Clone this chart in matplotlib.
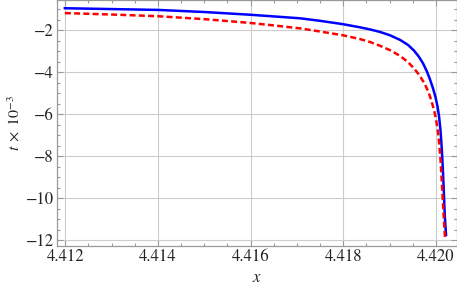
import matplotlib
matplotlib.use("Agg")
import matplotlib.pyplot as plt
from matplotlib.ticker import MultipleLocator, FormatStrFormatter

# values
x_blue = [4.41199, 4.41300, 4.41400, 4.41500, 4.41599, 4.41650, 4.41707, 4.41750,
          4.417996, 4.418363, 4.418579, 4.418795, 4.419011, 4.419227, 4.419400,
          4.419529, 4.419637, 4.419724, 4.419810, 4.419875, 4.419940, 4.419994,
          4.420037, 4.420069, 4.420102, 4.420127, 4.420149, 4.420171, 4.420192,
          4.420220]
t_blue = [-0.95, -0.99, -1.03, -1.13, -1.26, -1.34, -1.43, -1.55,
          -1.71, -1.86, -1.96, -2.08, -2.24, -2.46, -2.70,
          -2.97, -3.27, -3.58, -3.98, -4.35, -4.78, -5.2,
          -5.65, -6.1, -6.8, -7.6, -8.5, -9.6, -10.8,
          -11.76]

x_red = [4.41199, 4.41300, 4.41400, 4.41500, 4.41599, 4.41650, 4.41707, 4.41750,
         4.417996, 4.418363, 4.418579, 4.418795, 4.419011, 4.419227, 4.419400,
         4.419529, 4.419637, 4.419745, 4.419832, 4.419896, 4.419961, 4.420004,
         4.420043, 4.420073, 4.420102, 4.420123, 4.420145, 4.420171, 4.420199]
t_red = [-1.18, -1.25, -1.33, -1.47, -1.65, -1.77, -1.91, -2.06,
         -2.24, -2.42, -2.56, -2.74, -2.95, -3.22, -3.52,
         -3.82, -4.12, -4.5, -4.9, -5.3, -5.8, -6.25,
         -6.8, -7.4, -8.2, -9.0, -9.9, -10.9, -11.95]

x_ticks = [4.412, 4.414, 4.416, 4.418, 4.420]
y_ticks = [-12, -10, -8, -6, -4, -2]

plt.rcParams['font.family'] = ['STIXGeneral', 'DejaVu Serif']
plt.rcParams['mathtext.fontset'] = 'stix'

fig = plt.figure(figsize=(4.57, 2.87), dpi=100)
ax = fig.add_axes([0.1247, 0.1429, 0.8746, 0.8561])

frame_col = '#999999'
ax.plot(x_blue, t_blue, color='#0000ff', lw=1.8, zorder=3)
ax.plot(x_red, t_red, color='#ff0000', lw=1.8, dashes=(2.4, 1.3), zorder=4)

ax.set_xlim(4.41182, 4.42045)
ax.set_ylim(-12.286, -0.571)
ax.set_xticks(x_ticks)
ax.set_yticks(y_ticks)
ax.xaxis.set_major_formatter(FormatStrFormatter('%.3f'))
ax.xaxis.set_minor_locator(MultipleLocator(0.0005))
ax.yaxis.set_minor_locator(MultipleLocator(0.5))

ax.grid(True, which='major', color='#cccccc', lw=0.8, zorder=0)
for s in ax.spines.values():
    s.set_color(frame_col)
    s.set_linewidth(0.9)

ax.tick_params(which='both', direction='in', top=True, right=True,
               color=frame_col, width=0.8, labelsize=12, labelcolor='#222222')
ax.tick_params(which='major', length=4.5, pad=2.5)
ax.tick_params(which='minor', length=2.5)

ax.set_xlabel('$x$', fontsize=12, labelpad=3, color='#222222')
ax.set_ylabel(r'$t\;\times\;10^{-3}$', fontsize=11.5, labelpad=2, color='#222222')

plt.savefig('out.png', dpi=100)
